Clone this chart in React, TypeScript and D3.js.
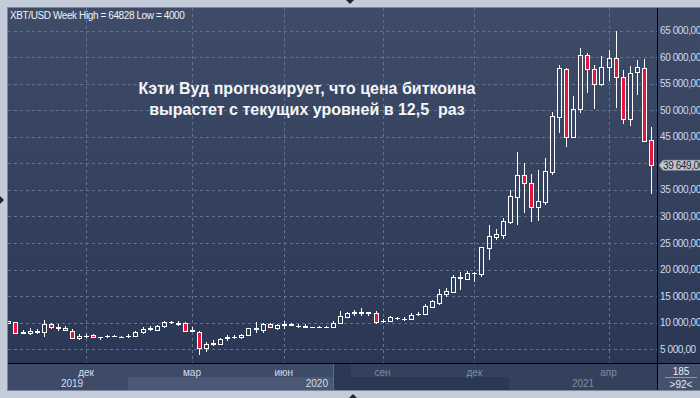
import React from 'react';
import * as d3 from 'd3';

// ---- data (weekly candles) ----
const opens = [10000, 10150, 8150, 8050, 8350, 8350, 9700, 9100, 9050, 8500, 7070, 7450, 7700, 7250, 7450, 7500, 7300, 7450, 7500, 8200, 8800, 8650, 9450, 10050, 9850, 9900, 8500, 8300, 5200, 6050, 6000, 7200, 7300, 7250, 7600, 8900, 8650, 9700, 9070, 9650, 9650, 9350, 9250, 9120, 9230, 9230, 9250, 9900, 11130, 11800, 11850, 11900, 11770, 10250, 10380, 10900, 10650, 10650, 11550, 11600, 13000, 13770, 15350, 15850, 18400, 18300, 19300, 19170, 24100, 26200, 26600, 29000, 33700, 37740, 36240, 31850, 32800, 38400, 48800, 57700, 45000, 50170, 60400, 57700, 54870, 58070, 59770, 56200, 48300, 57200, 57880, 44400];
const highs = [10400, 10200, 8650, 8950, 8800, 10500, 10000, 9700, 9300, 8750, 7880, 7900, 7900, 7400, 7700, 7600, 7450, 7800, 8500, 9150, 9400, 9550, 10350, 10400, 10250, 10100, 9150, 8500, 6430, 6700, 7100, 7600, 7700, 7800, 9050, 10100, 10000, 10000, 9800, 10300, 10000, 9750, 9700, 9250, 9450, 9300, 10300, 12200, 11990, 12400, 12700, 12000, 12200, 10700, 11200, 11100, 11050, 11750, 12000, 13500, 14300, 16400, 16600, 19000, 19600, 19800, 19550, 24200, 28400, 27700, 29700, 35000, 42100, 40000, 38000, 38750, 41050, 49700, 58500, 57900, 52700, 61650, 60700, 58500, 60200, 61330, 64828, 57560, 58370, 59450, 59600, 46900];
const lows = [9950, 8000, 7850, 7700, 7800, 7400, 8800, 8500, 8400, 6900, 6750, 7100, 7200, 6700, 7200, 7400, 7200, 7150, 7300, 7900, 8500, 8400, 9100, 9700, 9400, 8400, 8350, 4000, 4550, 5700, 5850, 6600, 6900, 6900, 7500, 8100, 8150, 9050, 8700, 8900, 9350, 9100, 9000, 9000, 9050, 9200, 9000, 9700, 10930, 11300, 11300, 11200, 9800, 9900, 10150, 10500, 10400, 10550, 11200, 11400, 12800, 13300, 14900, 15800, 16160, 18000, 17600, 18600, 21800, 25500, 25700, 28580, 28400, 30600, 29000, 29200, 32150, 37800, 45750, 43100, 44900, 49400, 53300, 50200, 54600, 55500, 50500, 47400, 47100, 52850, 43950, 34230];
const closes = [10350, 8150, 8300, 8500, 8450, 9700, 9150, 9200, 8600, 7070, 7500, 7550, 7350, 7350, 7550, 7550, 7350, 7550, 8300, 8900, 8950, 9450, 10100, 10150, 9950, 8500, 8650, 5200, 6000, 6200, 6900, 7300, 7400, 7700, 8950, 9000, 9760, 9250, 9630, 9750, 9700, 9420, 9300, 9170, 9280, 9270, 10000, 11270, 11890, 11950, 11950, 11980, 10200, 10350, 11000, 10970, 10750, 11450, 11650, 13150, 14000, 15400, 15970, 18600, 18550, 19300, 19400, 24200, 26300, 26700, 29150, 33850, 37740, 36240, 31700, 32900, 38550, 48900, 58000, 45000, 50170, 60400, 57700, 54930, 58070, 59770, 56200, 48300, 56950, 58050, 44260, 39649];

const yTickValues = [5000, 10000, 15000, 20000, 25000, 30000, 35000, 40000, 45000, 50000, 55000, 60000, 65000];
const monthLabels = ['дек', 'мар', 'июн', 'сен', 'дек', 'апр'];
const monthIndex = [11, 26, 39, 53, 66, 85];
const yearLabels = ['2019', '2020', '2021'];
const symbol = 'XBT/USD';
const period = 'Week';
const titleLines = ['Кэти Вуд прогнозирует, что цена биткоина', 'вырастет с текущих уровней в 12,5  раз'];
const zoomLevel = '185';
const barsVisible = '>92<';

// ---- layout ----
const W = 700, H = 398;
const PL = 8, PR = 657, PT = 8, PB = 363, BB = 390;
const FONT = "'Liberation Sans', Arial, sans-serif";
const RED = '#e4163c';

const locale = d3.formatLocale({ decimal: ',', thousands: ' ', grouping: [3], currency: ['', ''] });
const fmt = locale.format(',.2f');

export default function App() {
  const x = d3.scaleLinear().domain([0, opens.length - 1]).range([8.4, 650.9]);
  const y = d3.scaleLinear().domain([5000, 65000]).range([349.3, 30.5]);
  const hi = d3.max(highs) as number;
  const lo = d3.min(lows) as number;
  const last = closes[closes.length - 1];
  const lastY = y(last);

  const candles = opens.map((o, i) => {
    const c = closes[i];
    const up = c >= o;
    const cx = Math.round(x(i));
    const wx = cx + 0.5;
    const top = Math.round(y(Math.max(o, c))) + 0.5;
    const bot = Math.round(y(Math.min(o, c))) + 0.5;
    const yh = Math.round(y(highs[i]));
    const yl = Math.round(y(lows[i]));
    if (bot - top < 1) {
      return (
        <g key={i}>
          <line x1={wx} x2={wx} y1={yh} y2={yl} stroke="#fff" strokeWidth={1} />
          <line x1={cx - 2} x2={cx + 3} y1={top} y2={top} stroke="#fff" strokeWidth={1} />
        </g>
      );
    }
    return (
      <g key={i}>
        <line x1={wx} x2={wx} y1={yh} y2={top} stroke="#fff" strokeWidth={1} />
        <line x1={wx} x2={wx} y1={bot} y2={yl} stroke="#fff" strokeWidth={1} />
        <rect x={cx - 1.5} y={top} width={4} height={bot - top} fill={up ? 'none' : RED} stroke="#fff" strokeWidth={1} />
      </g>
    );
  });

  return (
    <svg width={W} height={H} style={{ position: 'fixed', left: 0, top: 0, display: 'block' }} fontFamily={FONT}>
      <defs>
        <linearGradient id="bg" x1="0" y1="0" x2="0" y2="1">
          <stop offset="0" stopColor="#3f4c68" />
          <stop offset="1" stopColor="#2b3855" />
        </linearGradient>
        <clipPath id="plotClip">
          <rect x={PL} y={PT} width={PR - PL} height={PB - PT} />
        </clipPath>
      </defs>
      {/* frame */}
      <rect x={0} y={0} width={W} height={H} fill="#c3ccd8" />
      <rect x={PL} y={PT} width={W - PL} height={PB - PT} fill="url(#bg)" />
      <polygon points="346,0 354,0 350,4" fill="#1d2530" />
      <polygon points="0,196 0,204 4,200" fill="#1d2530" />
      <polygon points="349,398 357,398 353,394" fill="#1d2530" />

      {/* bottom axis panel */}
      <rect x={PL} y={PB} width={333 - PL} height={BB - PB} fill="#3e4b68" />
      <rect x={128} y={377} width={333 - 128} height={BB - 377} fill="#4a5775" />
      <rect x={333} y={PB} width={1} height={BB - PB} fill="#5d6a86" />
      <rect x={334} y={PB} width={17} height={BB - PB} fill="#2c3955" />
      <rect x={351} y={PB} width={PR - 351} height={BB - PB} fill="#33415d" />
      <rect x={351} y={377} width={509 - 351} height={BB - 377} fill="#2b3854" />
      <rect x={PR} y={PB} width={W - PR} height={BB - PB} fill="#44526e" />
      <line x1={665} x2={697} y1={377.5} y2={377.5} stroke="#8a97ad" strokeWidth={1} />
      <text x={681} y={375} fontSize={10} fill="#e6ecf4" textAnchor="middle">{zoomLevel}</text>
      <text x={681} y={388} fontSize={10} fill="#e6ecf4" textAnchor="middle">{barsVisible}</text>

      {monthLabels.map((m, k) => {
        const mx = x(monthIndex[k]);
        return (
          <text key={k} x={mx} y={376} fontSize={10} textAnchor="middle" fill={mx < 333 ? '#d7dfea' : '#7f8ba1'}>{m}</text>
        );
      })}
      <text x={72} y={387} fontSize={10} textAnchor="middle" fill="#d7dfea">{yearLabels[0]}</text>
      <text x={328} y={387} fontSize={10} textAnchor="end" fill="#d7dfea">{yearLabels[1]}</text>
      <text x={583} y={387} fontSize={10} textAnchor="middle" fill="#7f8ba1">{yearLabels[2]}</text>

      {/* grid */}
      <g clipPath="url(#plotClip)">
        {yTickValues.map((v) => (
          <line key={v} x1={PL} x2={PR} y1={Math.round(y(v)) + 0.5} y2={Math.round(y(v)) + 0.5} stroke="#63728e" strokeWidth={1} strokeDasharray="3,3" />
        ))}
        {monthIndex.map((mi) => (
          <line key={mi} x1={Math.round(x(mi)) + 0.5} x2={Math.round(x(mi)) + 0.5} y1={PT} y2={PB} stroke="#63728e" strokeWidth={1} strokeDasharray="3,3" />
        ))}
      </g>

      {/* title */}
      {titleLines.map((t, k) => (
        <text key={k} x={307} y={94 + k * 21} fontSize={16} fontWeight="bold" fill="#f4f6f9" textAnchor="middle" style={{ whiteSpace: 'pre' }}>{t}</text>
      ))}

      {/* candles */}
      <g clipPath="url(#plotClip)">{candles}</g>

      {/* header */}
      <text x={10} y={19} fontSize={10} fill="#eef2f7" letterSpacing={-0.4}>
        {`${symbol} ${period} High = ${hi} Low = ${lo}`}
      </text>

      {/* right axis */}
      {yTickValues.filter((v) => Math.abs(y(v) - lastY) > 8).map((v) => (
        <text key={v} x={660} y={y(v)} dy="0.35em" fontSize={10} fill="#cddcf0" letterSpacing={-0.4}>{fmt(v)}</text>
      ))}

      {/* last price label */}
      <polygon points={`659,${lastY} 663,${lastY - 5} 700,${lastY - 5} 700,${lastY + 5} 663,${lastY + 5}`} fill="#c1c5cc" stroke="#9aa1ab" strokeWidth={0.5} />
      <text x={663} y={lastY} dy="0.35em" fontSize={10} fill="#1b2331" letterSpacing={-0.4}>{fmt(last)}</text>

      {/* separators */}
      <line x1={PR + 0.5} x2={PR + 0.5} y1={PT} y2={BB} stroke="#000" strokeWidth={1} />
      <line x1={PL} x2={W} y1={PB + 0.5} y2={PB + 0.5} stroke="#000" strokeWidth={1} />
      <rect x={7.5} y={7.5} width={W} height={BB - 7} fill="none" stroke="#7f8b9c" strokeWidth={1} />
    </svg>
  );
}
